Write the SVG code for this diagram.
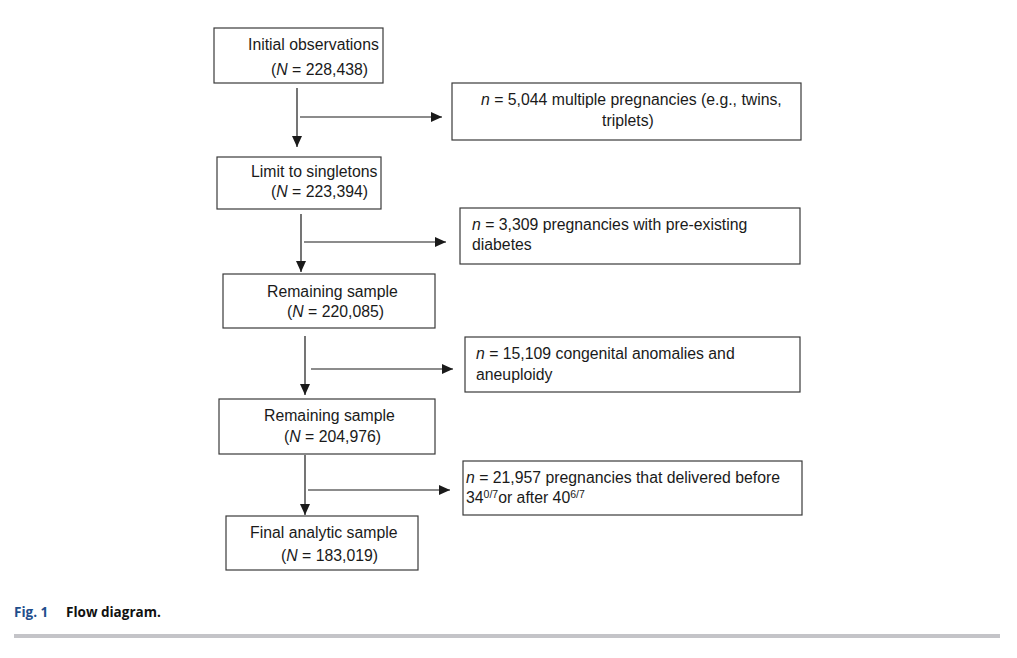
<svg xmlns="http://www.w3.org/2000/svg" width="1017" height="658" viewBox="0 0 1017 658">
<defs>
<style>
.box{fill:#fff;stroke:#3a3a3a;stroke-width:1.2}
.t{font-family:"Liberation Sans",Arial,sans-serif;font-size:15.8px;fill:#1a1a1a}
.ln{stroke:#1a1a1a;stroke-width:1.2;fill:none}
.cap{font-family:"Open Sans","Liberation Sans",sans-serif;font-size:13.5px;font-weight:bold}
</style>
<marker id="ah" viewBox="0 0 11 10" refX="11" refY="5" markerWidth="11" markerHeight="10" markerUnits="userSpaceOnUse" orient="auto">
<path d="M0,0 L11,5 L0,10 Z" fill="#1a1a1a"/>
</marker>
</defs>
<rect width="1017" height="658" fill="#fff"/>
<g id="n1"><rect class="box" x="214" y="28" width="169" height="55"/>
<text class="t" x="248" y="50">Initial observations</text>
<text class="t" x="271" y="75">(<tspan font-style="italic">N</tspan> = 228,438)</text></g>
<g id="n2"><rect class="box" x="452" y="83" width="349" height="57"/>
<text class="t" x="481" y="105"><tspan font-style="italic">n</tspan> = 5,044 multiple pregnancies (e.g., twins,</text>
<text class="t" x="628" y="126" text-anchor="middle">triplets)</text></g>
<g id="n3"><rect class="box" x="217" y="157" width="164" height="52"/>
<text class="t" x="251" y="177">Limit to singletons</text>
<text class="t" x="271" y="197">(<tspan font-style="italic">N</tspan> = 223,394)</text></g>
<g id="n4"><rect class="box" x="460" y="208" width="340" height="56"/>
<text class="t" x="472" y="230"><tspan font-style="italic">n</tspan> = 3,309 pregnancies with pre-existing</text>
<text class="t" x="472" y="250">diabetes</text></g>
<g id="n5"><rect class="box" x="223" y="274" width="212" height="54"/>
<text class="t" x="267" y="297">Remaining sample</text>
<text class="t" x="287" y="317">(<tspan font-style="italic">N</tspan> = 220,085)</text></g>
<g id="n6"><rect class="box" x="465" y="337" width="335" height="55"/>
<text class="t" x="476" y="359"><tspan font-style="italic">n</tspan> = 15,109 congenital anomalies and</text>
<text class="t" x="476" y="380">aneuploidy</text></g>
<g id="n7"><rect class="box" x="219" y="399" width="216" height="55"/>
<text class="t" x="264" y="421">Remaining sample</text>
<text class="t" x="284" y="442">(<tspan font-style="italic">N</tspan> = 204,976)</text></g>
<g id="n8"><rect class="box" x="463" y="461" width="339" height="54"/>
<text class="t" x="466" y="483"><tspan font-style="italic">n</tspan> = 21,957 pregnancies that delivered before</text>
<text class="t" x="466" y="503">34<tspan font-size="10.5px" dy="-5">0/7</tspan><tspan dy="5">or after 40</tspan><tspan font-size="10.5px" dy="-5">6/7</tspan></text></g>
<g id="n9"><rect class="box" x="226" y="516" width="192" height="54"/>
<text class="t" x="250" y="538">Final analytic sample</text>
<text class="t" x="281" y="561">(<tspan font-style="italic">N</tspan> = 183,019)</text></g>
<g id="connectors">
<line class="ln" x1="297" y1="88" x2="297" y2="147" marker-end="url(#ah)"/>
<line class="ln" x1="300" y1="117" x2="442" y2="117" marker-end="url(#ah)"/>
<line class="ln" x1="301" y1="214" x2="301" y2="272" marker-end="url(#ah)"/>
<line class="ln" x1="304" y1="242" x2="446" y2="242" marker-end="url(#ah)"/>
<line class="ln" x1="305" y1="336" x2="305" y2="395" marker-end="url(#ah)"/>
<line class="ln" x1="311" y1="369" x2="453" y2="369" marker-end="url(#ah)"/>
<line class="ln" x1="305" y1="455" x2="305" y2="515" marker-end="url(#ah)"/>
<line class="ln" x1="308" y1="490" x2="450" y2="490" marker-end="url(#ah)"/>
</g>
<text class="cap" x="14" y="617"><tspan fill="#1f4e8c">Fig. 1</tspan><tspan x="66" fill="#111">Flow diagram.</tspan></text>
<rect x="14" y="634" width="986" height="4" fill="#c4c4c8"/>
</svg>
